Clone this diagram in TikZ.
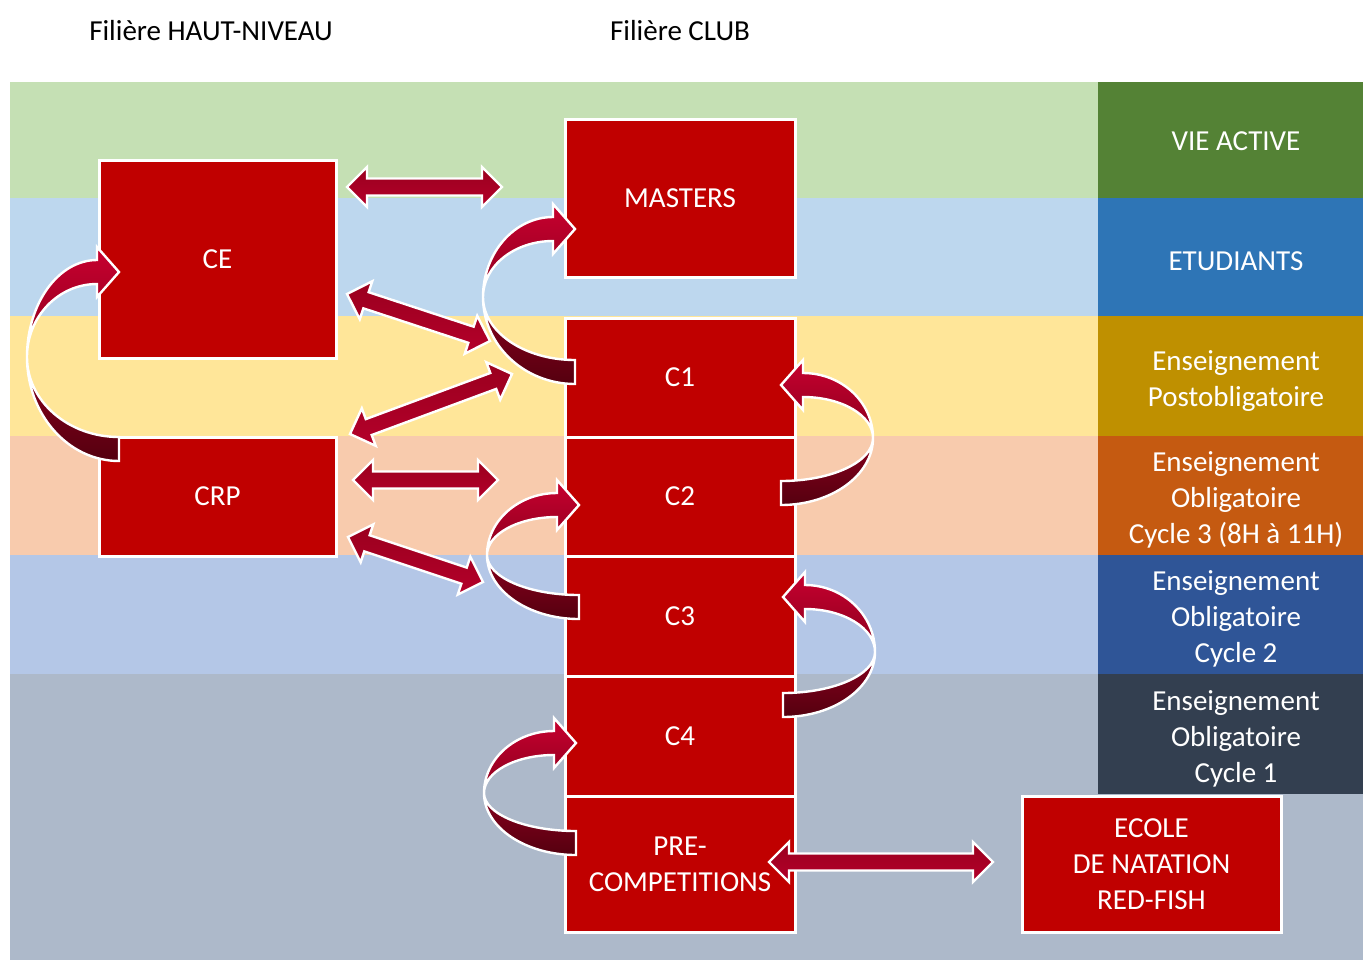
\documentclass[tikz,border=0pt]{standalone}
\usepackage{fontspec}
\setmainfont{Carlito}
\usetikzlibrary{calc}

\definecolor{boxred}{HTML}{C00000}
\definecolor{bandA}{HTML}{C5E0B4}
\definecolor{bandB}{HTML}{BDD7EE}
\definecolor{bandC}{HTML}{FFE699}
\definecolor{bandD}{HTML}{F8CBAD}
\definecolor{bandE}{HTML}{B4C7E7}
\definecolor{bandF}{HTML}{ADB9CA}
\definecolor{tagA}{HTML}{548235}
\definecolor{tagB}{HTML}{2E75B6}
\definecolor{tagC}{HTML}{BF9000}
\definecolor{tagD}{HTML}{C55A11}
\definecolor{tagE}{HTML}{2F5597}
\definecolor{tagF}{HTML}{333F50}
\definecolor{arrhi}{HTML}{C8002F}
\definecolor{arrmid}{HTML}{9A001E}
\definecolor{arrlo}{HTML}{55000F}

\newcommand\labelfont{\fontsize{14.5}{18}\selectfont}

% block arrow with two heads between two coordinates
\newcommand\twoway[2]{%
  \path[wayarrow] let \p1=($(#2)-(#1)$), \n1={atan2(\y1,\x1)} in
    (#1) -- ($(#1)+(\n1:10pt)+(\n1+90:10pt)$) -- ($(#1)+(\n1:10pt)+(\n1+90:4.25pt)$)
    -- ($(#2)+(\n1:-10pt)+(\n1+90:4.25pt)$) -- ($(#2)+(\n1:-10pt)+(\n1+90:10pt)$)
    -- (#2) -- ($(#2)+(\n1:-10pt)+(\n1-90:10pt)$) -- ($(#2)+(\n1:-10pt)+(\n1-90:4.25pt)$)
    -- ($(#1)+(\n1:10pt)+(\n1-90:4.25pt)$) -- ($(#1)+(\n1:10pt)+(\n1-90:10pt)$) -- cycle;
}

\tikzset{
  box/.style={draw=white, line width=1.5pt, fill=boxred, text=white,
    font=\labelfont, align=center, inner sep=0pt},
  tag/.style={text=white, font=\labelfont, align=center},
  wayarrow/.style={draw=white, line width=1.2pt, line join=miter,
    top color=arrmid, bottom color=arrhi!90!black},
  bendarrow/.style={draw=white, line width=1.2pt, line join=miter,
    top color=arrhi, middle color=arrmid, bottom color=arrlo},
  % curved arrow: #1 = rise to the head, #2 = drop to the tail
  pics/bend/.style 2 args={code={
    \path[bendarrow]
      (0,0) .. controls (0,{-0.552*(#1+12)}) and (31.4,{-(#1+12)}) .. (70,{-(#1+12)})
      -- (70,{-(#1+25)}) -- (92,{-#1}) -- (70,{-(#1-25)}) -- (70,{-(#1-12)})
      .. controls (31.4,{-(#1-12)}) and (0,{-0.552*(#1-12)}) .. (0,0)
      .. controls (0,{0.552*(#2-12)}) and (41.2,{#2-12}) .. (92,{#2-12})
      -- (92,{#2+12})
      .. controls (41.2,{#2+12}) and (0,{0.552*(#2+12)}) .. (0,0) -- cycle;
  }}
}

\begin{document}
\begin{tikzpicture}[x=0.5pt,y=-0.5pt]
\useasboundingbox (0,0) rectangle (1363,960);

% age bands
\fill[bandA] (10,82) rectangle (1098,198);
\fill[bandB] (10,198) rectangle (1098,316);
\fill[bandC] (10,316) rectangle (1098,436);
\fill[bandD] (10,436) rectangle (1098,555);
\fill[bandE] (10,555) rectangle (1098,674);
\fill[bandF] (10,674) rectangle (1363,960);
\fill[tagA] (1098,82) rectangle (1363,198);
\fill[tagB] (1098,198) rectangle (1363,316);
\fill[tagC] (1098,316) rectangle (1363,436);
\fill[tagD] (1098,436) rectangle (1363,555);
\fill[tagE] (1098,555) rectangle (1363,674);
\fill[tagF] (1098,674) rectangle (1363,794);

\node[tag] (vie) at (1236,141) {VIE ACTIVE};
\node[tag] (etu) at (1236,261) {ETUDIANTS};
\node[tag] (post) at (1236,381) {Enseignement\\Postobligatoire};
\node[tag] (cyc3) at (1236,500) {Enseignement\\Obligatoire\\Cycle 3 (8H à 11H)};
\node[tag] (cyc2) at (1236,619) {Enseignement\\Obligatoire\\Cycle 2};
\node[tag] (cyc1) at (1236,739) {Enseignement\\Obligatoire\\Cycle 1};

% titles
\node[font=\labelfont] (haut) at (211,31) {Filière HAUT-NIVEAU};
\node[font=\labelfont] (club) at (680,31) {Filière CLUB};

% boxes
\node[box, minimum width=118.5pt, minimum height=99pt] (ce) at (217.5,259) {CE};
\node[box, minimum width=118.5pt, minimum height=59.5pt] (crp) at (217.5,496.5) {CRP};
\node[box, minimum width=115pt, minimum height=79pt] (masters) at (680,198) {MASTERS};
\node[box, minimum width=115pt, minimum height=59.5pt] (c1) at (680,377.5) {C1};
\node[box, minimum width=115pt, minimum height=59.5pt] (c2) at (680,496.5) {C2};
\node[box, minimum width=115pt, minimum height=60pt] (c3) at (680,616) {C3};
\node[box, minimum width=115pt, minimum height=60pt] (c4) at (680,736) {C4};
\node[box, minimum width=115pt, minimum height=68pt] (pre) at (680,864) {PRE-\\COMPETITIONS};
\node[box, minimum width=129.5pt, minimum height=68pt] (ecole) at (1151.5,864) {ECOLE\\DE NATATION\\RED-FISH};

% straight links
\coordinate (a1l) at (347,187);  \coordinate (a1r) at (502,187);
\coordinate (a2l) at (347,294);  \coordinate (a2r) at (490,341);
\coordinate (a3l) at (350,434);  \coordinate (a3r) at (512,374);
\coordinate (a4l) at (353,480);  \coordinate (a4r) at (498,480);
\coordinate (a5l) at (348,537);  \coordinate (a5r) at (483,582);
\coordinate (a6l) at (769,862);  \coordinate (a6r) at (993,862);
\twoway{a1l}{a1r}
\twoway{a2l}{a2r}
\twoway{a3l}{a3r}
\twoway{a4l}{a4r}
\twoway{a5l}{a5r}
\twoway{a6l}{a6r}

% curved links
\pic at (27,357) {bend={85}{92}};
\pic at (483,297) {bend={68}{75}};
\pic at (487,555) {bend={50}{52}};
\pic at (484,793) {bend={50}{50}};
\pic[xscale=-1] at (873,438) {bend={53}{55}};
\pic[xscale=-1] at (875,652) {bend={55}{53}};
\end{tikzpicture}
\end{document}
